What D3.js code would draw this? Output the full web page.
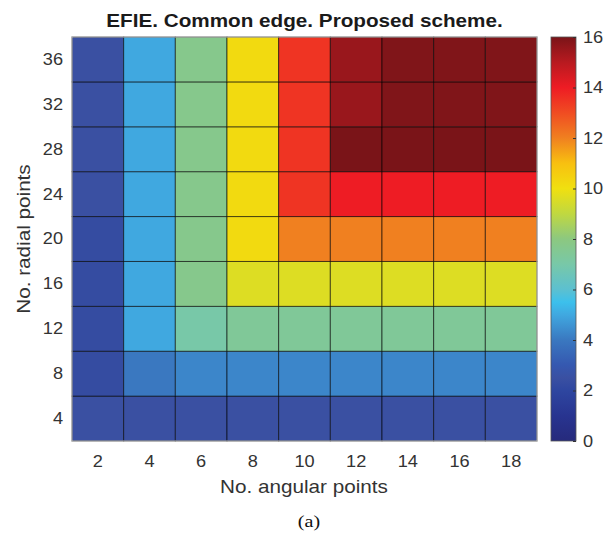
<!DOCTYPE html>
<html lang="en">

<head>
    <title>EFIE common edge</title>
    <meta charset="utf-8">
    <script src="https://d3js.org/d3.v7.min.js"></script>
    <style>
        body { margin: 0; background: #fff; }
        text { font-family: "Liberation Sans", Arial, sans-serif; fill: #333; }
    </style>
</head>

<body>
    <div id="chart"></div>
    <script>
        // Data
        const angularPoints = [2, 4, 6, 8, 10, 12, 14, 16, 18];
        const radialPoints = [4, 8, 12, 16, 20, 24, 28, 32, 36];

        // one row per radial point (bottom to top), one value per angular point
        const row4 = [2.5, 2.5, 2.5, 2.5, 2.5, 2.5, 2.5, 2.5, 2.5];
        const row8 = [2.3, 4.0, 4.3, 4.3, 4.3, 4.3, 4.3, 4.3, 4.3];
        const row12 = [2.3, 5.0, 7.0, 7.4, 7.4, 7.4, 7.4, 7.4, 7.4];
        const row16 = [2.3, 5.0, 7.7, 9.6, 9.6, 9.6, 9.6, 9.6, 9.6];
        const row20 = [2.3, 5.0, 7.7, 10.2, 12.0, 12.0, 12.0, 12.0, 12.0];
        const row24 = [2.5, 5.0, 7.7, 10.2, 13.5, 14.0, 14.0, 14.0, 14.0];
        const row28 = [2.5, 5.0, 7.7, 10.2, 13.5, 16.0, 16.0, 16.0, 16.0];
        const row32 = [2.5, 5.0, 7.7, 10.2, 13.5, 15.5, 15.9, 15.9, 15.9];
        const row36 = [2.5, 5.0, 7.7, 10.2, 13.5, 15.5, 15.9, 15.9, 15.9];
        const rows = [row4, row8, row12, row16, row20, row24, row28, row32, row36];

        const colorTicks = [0, 2, 4, 6, 8, 10, 12, 14, 16];

        // Colormap (jet-like, as seen on the colorbar)
        const colorStops = [0, 1, 2, 2.5, 3, 4, 5, 5.5, 6, 7, 8, 9, 10, 11, 12, 13, 14, 15, 16];
        const colorValues = ["#262a7c", "#283490", "#2e46a0", "#3a50a2", "#3558b0", "#3a78c0", "#40a8e0",
            "#3cc0ec", "#5cc0d0", "#78c8a8", "#8cc880", "#c0d840", "#f0e010", "#f8c010", "#f08020",
            "#f04c22", "#ee1c24", "#b81a20", "#7a1418"];

        const cells = rows.flatMap((r, i) => r.map((v, j) => ({
            x: angularPoints[j], y: radialPoints[i], value: v
        })));

        // Dimensions
        const W = 613, H = 533;
        const plot = { left: 72, right: 537, top: 37, bottom: 441 };
        const bar = { left: 551, right: 576 };
        // the original picture's text is a bit wider than Arial
        const tickStretch = 1.07, labelStretch = 1.15;

        const svg = d3.select("#chart").append("svg")
            .attr("width", W)
            .attr("height", H);

        // Scales
        const xScale = d3.scaleBand()
            .domain(angularPoints)
            .range([plot.left, plot.right]);

        const yScale = d3.scaleBand()
            .domain(radialPoints)
            .range([plot.bottom, plot.top]);

        const colorScale = d3.scaleLinear()
            .domain(colorStops)
            .range(colorValues)
            .clamp(true);

        // Cells
        svg.append("g")
            .selectAll("rect")
            .data(cells)
            .join("rect")
            .attr("x", d => xScale(d.x))
            .attr("y", d => yScale(d.y))
            .attr("width", xScale.bandwidth())
            .attr("height", yScale.bandwidth())
            .attr("fill", d => colorScale(d.value))
            .attr("stroke", "#000")
            .attr("stroke-opacity", 0.6)
            .attr("stroke-width", 1);

        // Plot frame (light grey)
        svg.append("rect")
            .attr("x", plot.left)
            .attr("y", plot.top)
            .attr("width", plot.right - plot.left)
            .attr("height", plot.bottom - plot.top)
            .attr("fill", "none")
            .attr("stroke", "#bbb")
            .attr("stroke-width", 1);

        function styleTicks(a, sx) {
            a.select(".domain").remove();
            a.selectAll("text")
                .attr("font-family", "Liberation Sans, Arial, sans-serif")
                .attr("font-size", 17)
                .attr("fill", "#333")
                .attr("transform", `scale(${sx},1)`);
        }

        // Axes
        const xAxis = svg.append("g")
            .attr("transform", `translate(0,${plot.bottom})`)
            .call(d3.axisBottom(xScale).tickSize(0).tickPadding(14));

        const yAxis = svg.append("g")
            .attr("transform", `translate(${plot.left},0)`)
            .call(d3.axisLeft(yScale).tickSize(0).tickPadding(8.4));

        styleTicks(xAxis, tickStretch);
        styleTicks(yAxis, tickStretch);

        // Title and labels
        function label(x, y, rot, txt, size) {
            return svg.append("text")
                .attr("transform", `translate(${x},${y}) rotate(${rot}) scale(${labelStretch},1)`)
                .attr("text-anchor", "middle")
                .attr("font-size", size)
                .text(txt);
        }

        label((plot.left + plot.right) / 2, 27, 0, "EFIE. Common edge. Proposed scheme.", 18)
            .attr("font-weight", "bold")
            .style("fill", "#1a1a1a");

        label(304, 493, 0, "No. angular points", 18);

        label(30, (plot.top + plot.bottom) / 2, -90, "No. radial points", 18);

        label(309, 527, 0, "(a)", 17.5)
            .style("font-family", "Liberation Serif, Times New Roman, serif")
            .style("fill", "#111");

        // Colorbar
        const cScale = d3.scaleLinear()
            .domain([0, 16])
            .range([plot.bottom, plot.top]);

        const grad = svg.append("defs").append("linearGradient")
            .attr("id", "cbar")
            .attr("x1", 0).attr("y1", 1)
            .attr("x2", 0).attr("y2", 0);

        grad.selectAll("stop")
            .data(colorStops)
            .join("stop")
            .attr("offset", d => d / 16)
            .attr("stop-color", d => colorScale(d));

        svg.append("rect")
            .attr("x", bar.left)
            .attr("y", plot.top)
            .attr("width", bar.right - bar.left)
            .attr("height", plot.bottom - plot.top)
            .attr("fill", "url(#cbar)")
            .attr("stroke", "#555")
            .attr("stroke-width", 0.8);

        const cAxis = svg.append("g")
            .attr("transform", `translate(${bar.right},0)`)
            .call(d3.axisRight(cScale).tickValues(colorTicks).tickSize(-3).tickPadding(6.5));

        styleTicks(cAxis, tickStretch);
        cAxis.selectAll("line").attr("stroke", "#333");
    </script>
</body>

</html>
